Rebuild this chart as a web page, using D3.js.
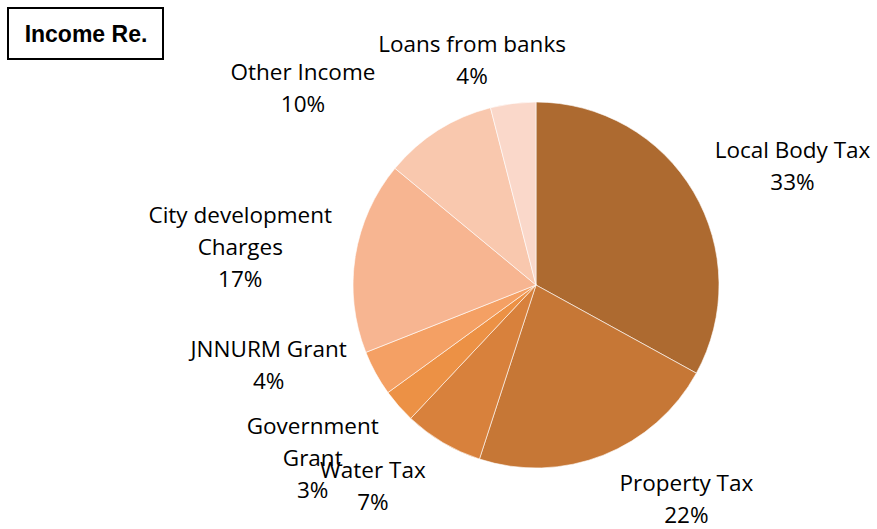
<!DOCTYPE html>
<html>
<head>
<meta charset="utf-8">
<script src="https://cdn.jsdelivr.net/npm/d3@7"></script>
<style>
  body { margin: 0; background: #fff; }
  svg { display: block; }
</style>
</head>
<body>
<svg id="chart"></svg>
<script>
const categories = ["Local Body Tax", "Property Tax", "Water Tax", "Government Grant",
  "JNNURM Grant", "City development Charges", "Other Income", "Loans from banks"];
const values = [33, 22, 7, 3, 4, 17, 10, 4];
// how each label wraps, as in the original
const labelLines = [
  ["Local Body Tax"], ["Property Tax"], ["Water Tax"], ["Government", "Grant"],
  ["JNNURM Grant"], ["City development", "Charges"], ["Other Income"], ["Loans from banks"]
];
const colors = ["#AD6A30", "#C67736", "#D8813C", "#EC9145", "#F4A064", "#F7B591", "#F9C8AE", "#FAD8CA"];
// label nudges from the slice's outer edge point
const labelOffsets = [[99, -25], [83, 44], [-70, 44], [-86, 52], [-107, -8], [-115, -9], [-135, -42], [-41, -43]];

const width = 877;
const height = 529;
const cx = 536, cy = 285, radius = 183;
const lineH = 32;

const svg = d3.select("#chart")
  .attr("width", width)
  .attr("height", height);

// title box
svg.append("rect")
  .attr("x", 8).attr("y", 8)
  .attr("width", 155).attr("height", 51)
  .attr("fill", "#fff")
  .attr("stroke", "#000")
  .attr("stroke-width", 2);

svg.append("text")
  .attr("x", 86).attr("y", 42)
  .attr("text-anchor", "middle")
  .style("font-family", "Liberation Sans, Arial, sans-serif")
  .style("font-weight", "bold")
  .style("font-size", "23px")
  .text("Income Re.");

const pie = d3.pie().sort(null).value(d => d)(values);
const arc = d3.arc().innerRadius(0).outerRadius(radius);

const g = svg.append("g").attr("transform", `translate(${cx}, ${cy})`);

g.selectAll("path")
  .data(pie)
  .enter()
  .append("path")
  .attr("d", arc)
  .attr("fill", (d, i) => colors[i])
  .attr("stroke", "#fff")
  .attr("stroke-width", 0.6);

// labels
g.selectAll("text.label")
  .data(pie)
  .enter()
  .append("text")
  .attr("class", "label")
  .attr("text-anchor", "middle")
  .style("font-family", "'Open Sans', Lato, sans-serif")
  .style("font-size", "22.5px")
  .attr("fill", "#000")
  .each(function(d, i) {
    const a = (d.startAngle + d.endAngle) / 2;
    const px = Math.sin(a) * radius + labelOffsets[i][0];
    const py = -Math.cos(a) * radius + labelOffsets[i][1];
    const lines = labelLines[i].concat([values[i] + "%"]);
    const top = py - (lines.length * lineH) / 2;
    d3.select(this).selectAll("tspan")
      .data(lines)
      .enter()
      .append("tspan")
      .attr("x", px)
      .attr("y", (t, k) => top + k * lineH + lineH / 2 + 7.5)
      .text(t => t);
  });
</script>
</body>
</html>
